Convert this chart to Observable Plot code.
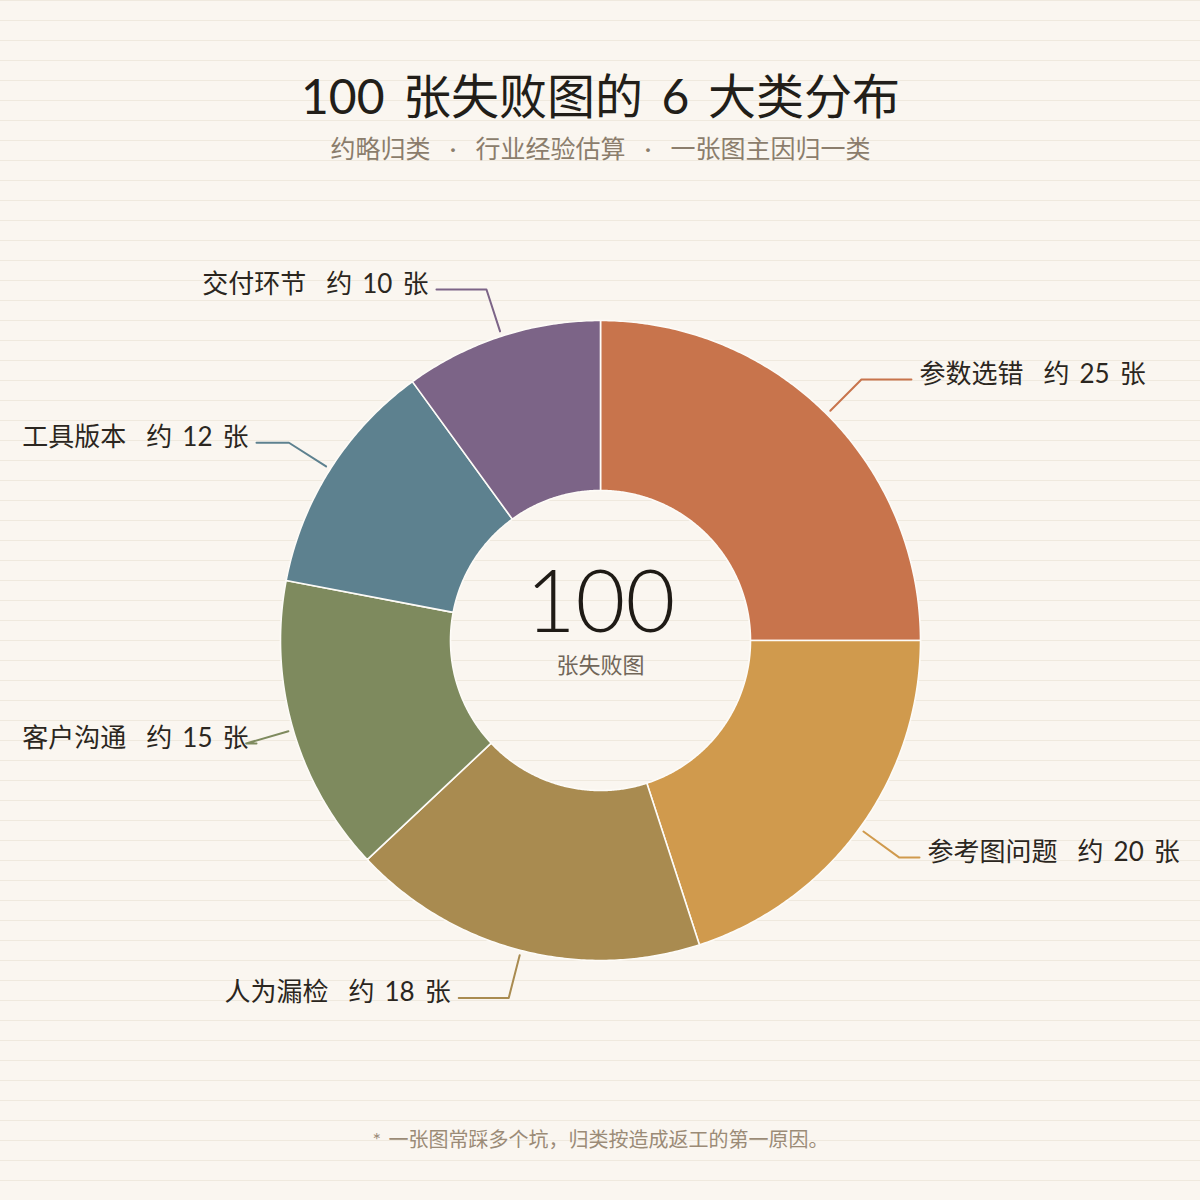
<!DOCTYPE html>
<html>
<head>
<meta charset="utf-8">
<script src="https://cdn.jsdelivr.net/npm/d3@7"></script>
<script src="https://cdn.jsdelivr.net/npm/@observablehq/plot@0.6"></script>
<style>
  html, body { margin: 0; padding: 0; }
  body {
    width: 1200px; height: 1200px;
    background-color: #faf6f0;
    background-image: repeating-linear-gradient(to bottom, #efe9de 0px, #efe9de 1px, transparent 1px, transparent 20px);
  }
  #chart svg text { word-spacing: 0.13em; }
</style>
</head>
<body>
<div id="chart"></div>
<script>
// ---- data ----
const categories = ["参数选错", "参考图问题", "人为漏检", "客户沟通", "工具版本", "交付环节"];
const counts = [25, 20, 18, 15, 12, 10];
const colors = ["#c8744c", "#d09a4d", "#a98b50", "#7e8a5e", "#5d818f", "#7c6487"];
const titleText = "100 张失败图的 6 大类分布";
const subtitleText = "约略归类\u00a0\u00a0·\u00a0\u00a0行业经验估算\u00a0\u00a0·\u00a0\u00a0一张图主因归一类";
const centerValue = "100";
const centerLabel = "张失败图";
const footnoteText = "* 一张图常踩多个坑，归类按造成返工的第一原因。";

// ---- layout constants ----
const R_OUT = 320, R_IN = 150, R_LEAD0 = 325, R_ELBOW = 369;
const LEFT_MIN = -352, RIGHT_MAX = 327;
const FONT = "Lato, 'Noto Sans CJK SC', 'Noto Sans', sans-serif";

const total = d3.sum(counts);
let cum = 0;
const slices = categories.map((c, i) => {
  const a0 = 2 * Math.PI * cum / total;
  cum += counts[i];
  const a1 = 2 * Math.PI * cum / total;
  return {cat: c, value: counts[i], a0, a1, mid: (a0 + a1) / 2};
});
const pt = (r, a) => ({x: r * Math.sin(a), y: -r * Math.cos(a)});

// slice polygons sampled along arcs
const poly = [];
for (const s of slices) {
  const n = Math.max(8, Math.ceil((s.a1 - s.a0) / (Math.PI / 360)));
  for (let k = 0; k <= n; k++) poly.push({cat: s.cat, ...pt(R_OUT, s.a0 + (s.a1 - s.a0) * k / n)});
  for (let k = n; k >= 0; k--) poly.push({cat: s.cat, ...pt(R_IN, s.a0 + (s.a1 - s.a0) * k / n)});
  poly.push({cat: s.cat, ...pt(R_OUT, s.a0)});
}

// leaders and labels
const leaders = [];
const labels = [];
for (const s of slices) {
  const p0 = pt(R_LEAD0, s.mid), p1 = pt(R_ELBOW, s.mid);
  const right = Math.sin(s.mid) >= 0;
  const ax = right ? Math.min(p1.x + 58, RIGHT_MAX) : Math.max(p1.x - 58, LEFT_MIN);
  const ex = right ? ax - 8 : ax + 8;
  leaders.push({cat: s.cat, x: p0.x, y: p0.y}, {cat: s.cat, x: p1.x, y: p1.y}, {cat: s.cat, x: ex, y: p1.y});
  labels.push({cat: s.cat, right, x: ax, y: p1.y, text: s.cat + "\u00a0\u00a0约 " + s.value + " 张"});
}

const plot = Plot.plot({
  width: 1200, height: 1200,
  marginTop: 0, marginRight: 0, marginBottom: 0, marginLeft: 0,
  x: {domain: [-600, 600], range: [0, 1200], axis: null},
  y: {domain: [-640, 560], range: [0, 1200], axis: null},
  color: {domain: categories, range: colors},
  style: {background: "transparent", fontFamily: FONT, overflow: "visible"},
  marks: [
    Plot.line(poly, {x: "x", y: "y", z: "cat", fill: "cat", stroke: "#fdfbf7", strokeWidth: 1.6, strokeLinejoin: "round"}),
    Plot.line(leaders, {x: "x", y: "y", z: "cat", stroke: "cat", strokeWidth: 2}),
    Plot.text(labels.filter(d => d.right), {x: "x", y: "y", text: "text", textAnchor: "start", lineAnchor: "middle", dy: -5, fontSize: 26, fill: "#2b2620"}),
    Plot.text(labels.filter(d => !d.right), {x: "x", y: "y", text: "text", textAnchor: "end", lineAnchor: "middle", dy: -5, fontSize: 26, fill: "#2b2620"}),
    Plot.text([centerValue], {x: 0, y: 0, text: d => d, lineAnchor: "bottom", dy: -9, fontSize: 86, fontWeight: 300, fill: "#1f1b16"}),
    Plot.text([centerLabel], {x: 0, y: 0, text: d => d, lineAnchor: "bottom", dy: 32, fontSize: 22, fill: "#716659"}),
    Plot.text([titleText], {frameAnchor: "top", text: d => d, lineAnchor: "bottom", dy: 113, fontSize: 48, fill: "#221e19"}),
    Plot.text([subtitleText], {frameAnchor: "top", text: d => d, lineAnchor: "bottom", dy: 157, fontSize: 25, fill: "#8b7d6c"}),
    Plot.text([footnoteText], {frameAnchor: "top", text: d => d, lineAnchor: "bottom", dy: 1146, fontSize: 20, fill: "#9b8b77"})
  ]
});
document.getElementById("chart").appendChild(plot);
</script>
</body>
</html>
